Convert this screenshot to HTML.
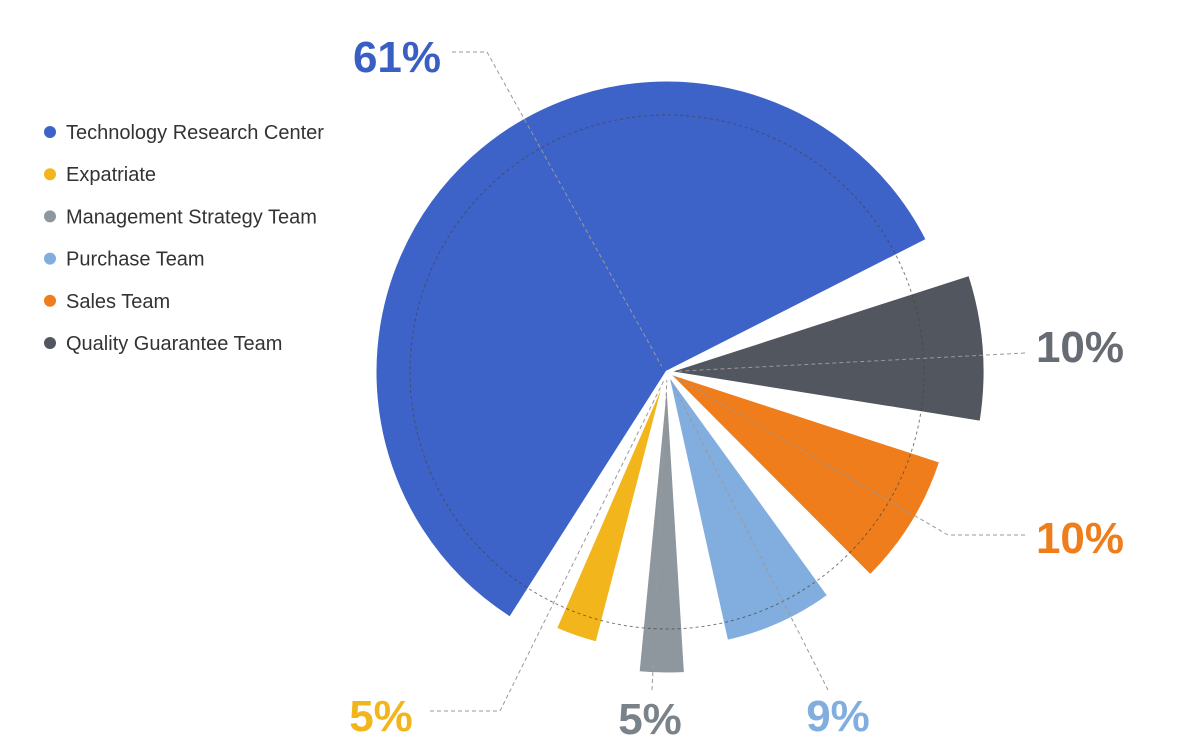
<!DOCTYPE html>
<html><head><meta charset="utf-8"><style>
body{margin:0;background:#fff;width:1184px;height:742px;overflow:hidden;font-family:"Liberation Sans",sans-serif;}
</style></head><body>
<svg id="chart" width="1184" height="742" viewBox="0 0 1184 742" xmlns="http://www.w3.org/2000/svg"></svg>
<script>
const categories = ["Technology Research Center","Expatriate","Management Strategy Team","Purchase Team","Sales Team","Quality Guarantee Team"];
const values = [61,5,5,9,10,10];
const labels = ["61%","5%","5%","9%","10%","10%"];
const colors = ["#3d63c8","#f2b51c","#8e979e","#82aedf","#ef7d1c","#52565f"];
const labelColors = ["#3a5fc4","#f2b51c","#7b838a","#82aedf","#ef7d1c","#676b73"];
// drawing order clockwise starting from the blue slice
const drawOrder = [0,5,4,3,2,1];
const radii = {0:292,5:318,4:288,3:276,2:302,1:280};
const cx=667, cy=372, startDeg=-242, pad=4.5;
const svg=document.getElementById('chart');
const NS="http://www.w3.org/2000/svg";
function mk(t,a){const e=document.createElementNS(NS,t);for(const k in a)e.setAttribute(k,a[k]);svg.appendChild(e);return e;}
function pt(r,deg){const a=deg*Math.PI/180;return [cx+r*Math.cos(a),cy+r*Math.sin(a)];}
const total=values.reduce((a,b)=>a+b,0);
let cur=startDeg;
const mids={};
drawOrder.forEach(i=>{
  const span=values[i]/total*360;
  const a0=cur+pad, a1=cur+span-pad;
  mids[i]=cur+span/2;
  const r=radii[i];
  const p0=pt(r,a0), p1=pt(r,a1);
  const large=(a1-a0)>180?1:0;
  const p=mk('path',{d:`M${cx},${cy} L${p0[0]},${p0[1]} A${r},${r} 0 ${large} 1 ${p1[0]},${p1[1]} Z`,fill:colors[i],stroke:'#fff','stroke-width':3});
  
  
  cur+=span;
});
const ring=mk('circle',{cx:cx,cy:cy,r:257,fill:'none',stroke:'#444','stroke-width':1,'stroke-dasharray':'3,3',opacity:0.7});


// leader lines + labels
const lblPos={0:[397,72,[[452,52],[487,52]],'middle'],5:[1080,362,[[1025,353],[1025,353]],'middle'],4:[1080,553,[[1025,535],[948,535]],'middle'],3:[838,731,[[828,690],[828,690]],'middle'],2:[650,734,[[652,690],[652,690]],'middle'],1:[381,731,[[430,711],[500,711]],'middle']};
drawOrder.forEach(i=>{
  const L=lblPos[i];
  const inner=pt(8,mids[i]);
  const d=`M${L[2][0][0]},${L[2][0][1]} L${L[2][1][0]},${L[2][1][1]} L${inner[0]},${inner[1]}`;
  const ln=mk('path',{d:d,fill:'none',stroke:'#999','stroke-width':1,'stroke-dasharray':'4,3'});
  
  
  const t=mk('text',{x:L[0],y:L[1],'text-anchor':L[3],'font-size':44,'font-weight':'bold',fill:labelColors[i]});
  t.textContent=labels[i];
  
  
});
// legend
categories.forEach((c,i)=>{
  const y=132+i*42.2;
  const dot=mk('circle',{cx:50,cy:y,r:6,fill:colors[i]});
  
  
  const t=mk('text',{x:66,y:y+7,'font-size':20,fill:'#333'});
  t.textContent=c;
  
  
});
</script>
</body></html>
